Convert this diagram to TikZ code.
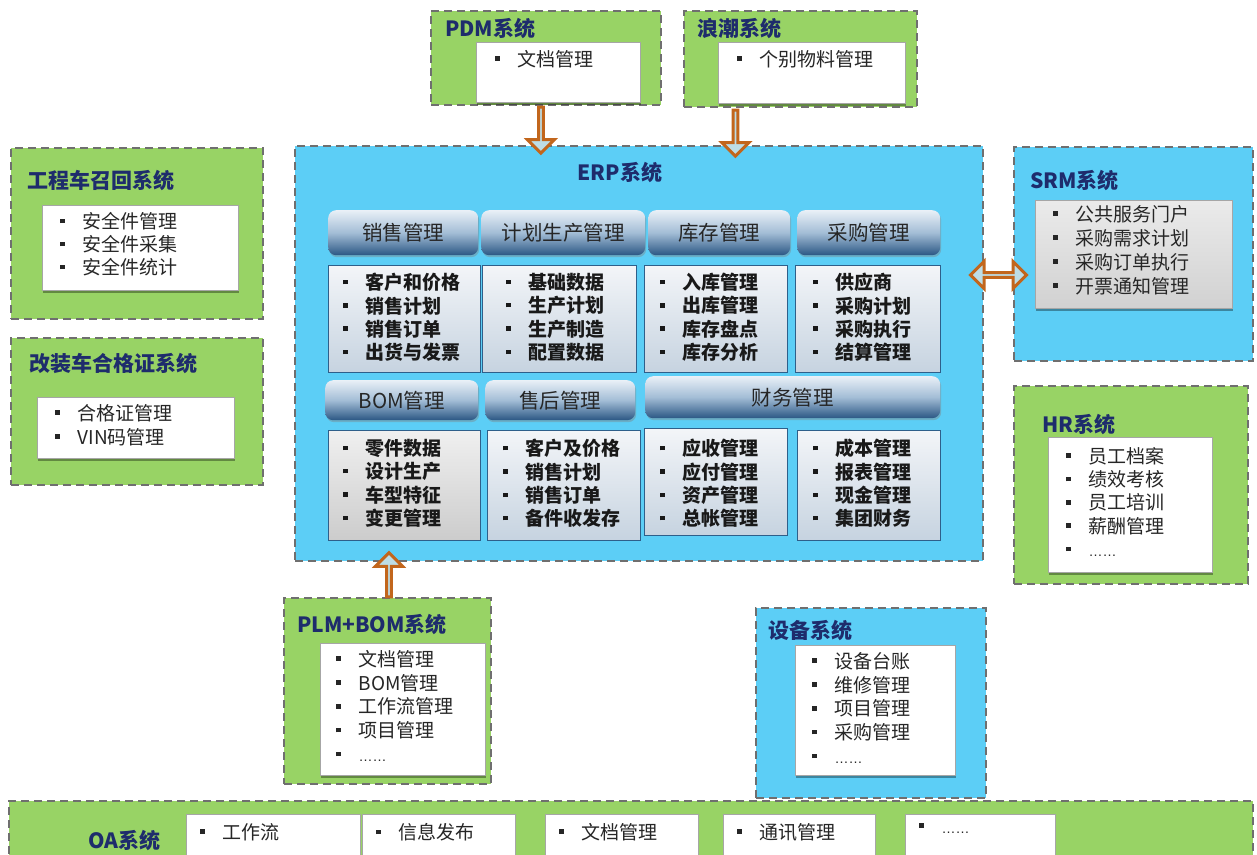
\documentclass[tikz,border=0pt]{standalone}
\usepackage{fontspec}
\setmainfont{Noto Sans CJK SC}
\newfontfamily\dotsfont{Liberation Sans}
\usetikzlibrary{positioning}
\usetikzlibrary{calc}
\usetikzlibrary{shapes.arrows}
\usetikzlibrary{shadows}

\definecolor{sysgreen}{HTML}{98D365}
\definecolor{sysblue}{HTML}{5CCEF6}
\definecolor{dashgray}{HTML}{6F6F6F}
\definecolor{navy}{HTML}{1E2C6C}
\definecolor{hdrtop}{HTML}{E9F0F7}
\definecolor{hdrmid}{HTML}{A3BDD6}
\definecolor{hdrbot}{HTML}{2B5784}
\definecolor{modline}{HTML}{2E5F8A}
\definecolor{modtop}{HTML}{F3F5F8}
\definecolor{modbot}{HTML}{C6D3E0}
\definecolor{arrowline}{HTML}{C2661C}
\definecolor{arrowfill}{HTML}{BDDDE6}

\newcommand\bl{\rule[0.28em]{4.5pt}{4.5pt}\hspace{18pt}}
\newcommand\etc{{\dotsfont\fontsize{14}{18}\selectfont ……}}

\tikzset{
  sysbox/.style = {
    anchor=north west, inner sep=0pt, draw=dashgray, line width=2pt, dash pattern=on 8pt off 5pt},
  greensys/.style = {sysbox, fill=sysgreen},
  bluesys/.style = {sysbox, fill=sysblue},
  systitle/.style = {
    anchor=west, inner sep=0pt, text=navy, font=\bfseries\fontsize{21}{25}\selectfont},
  listbox/.style = {
    anchor=north west, inner sep=0pt, fill=white, draw=black!35, line width=.6pt,
    drop shadow={shadow xshift=1pt, shadow yshift=-3pt, fill=black, opacity=.35}},
  items/.style = {
    anchor=north west, inner sep=0pt, align=left, text=black!85, font=\fontsize{19}{23.5}\selectfont}
}

\begin{document}
\begin{tikzpicture}[x=1pt, y=-1pt,
hdr/.style={anchor=north west, rounded corners=8pt, top color=hdrtop, bottom color=hdrbot,
  middle color=hdrmid, text=black!85, font=\fontsize{20.5}{24}\selectfont,
  drop shadow={shadow xshift=1pt, shadow yshift=-2pt, opacity=.4}},
modbox/.style={anchor=north west, inner sep=0pt, draw=modline, line width=1pt,
  top color=modtop, bottom color=modbot},
erpitems/.style={items, text=black!90, font=\bfseries\fontsize{19}{23.3}\selectfont},
flowarrow/.style={single arrow, draw=arrowline, fill=arrowfill, line width=3pt,
  minimum width=27pt, single arrow head extend=7pt, single arrow head indent=0pt, inner sep=0pt},
syncarrow/.style={double arrow, draw=arrowline, fill=arrowfill, line width=3pt,
  minimum width=27pt, double arrow head extend=7pt, inner sep=0pt}]

\useasboundingbox (0,0) rectangle (1257,854);
\fill[white] (0,0) rectangle (1257,854);

% top systems
\node[greensys, minimum width=230pt, minimum height=94pt] (pdm) at (430,10) {};
\node[systitle] at (445,28) {PDM系统};
\node[listbox, minimum width=164pt, minimum height=60pt] (pdmlist) at (476,42) {};
\node[items] at (495,50) {\bl 文档管理};

\node[greensys, minimum width=233pt, minimum height=96pt] (lc) at (683,10) {};
\node[systitle] at (697,28) {浪潮系统};
\node[listbox, minimum width=187pt, minimum height=61pt] (lclist) at (718,42) {};
\node[items] at (737,50) {\bl 个别物料管理};

% left systems
\node[greensys, minimum width=252pt, minimum height=171pt] (zh) at (10,147) {};
\node[systitle] at (27,180) {工程车召回系统};
\node[listbox, minimum width=196pt, minimum height=85pt] (zhlist) at (42,205) {};
\node[items, font=\fontsize{19}{23}\selectfont] at (60,212) {\bl 安全件管理\\\bl 安全件采集\\\bl 安全件统计};

\node[greensys, minimum width=252pt, minimum height=147pt] (gz) at (10,337) {};
\node[systitle] at (29,363) {改装车合格证系统};
\node[listbox, minimum width=197pt, minimum height=61pt] (gzlist) at (37,397) {};
\node[items, font=\fontsize{19}{24}\selectfont] at (55,404) {\bl 合格证管理\\\bl VIN码管理};

% right systems
\node[bluesys, minimum width=239pt, minimum height=214pt] (srm) at (1013,146) {};
\node[systitle] at (1030,180) {SRM系统};
\node[listbox, top color=black!8, bottom color=black!18, minimum width=197pt, minimum height=108pt] (srmlist) at (1035,200) {};
\node[items, font=\fontsize{19}{24}\selectfont] at (1053,205) {\bl 公共服务门户\\\bl 采购需求计划\\\bl 采购订单执行\\\bl 开票通知管理};

\node[greensys, minimum width=234pt, minimum height=198pt] (hr) at (1013,385) {};
\node[systitle] at (1042,424) {HR系统};
\node[listbox, minimum width=164pt, minimum height=135pt] (hrlist) at (1048,437) {};
\node[items, font=\fontsize{19}{23.3}\selectfont] at (1066,447) {\bl 员工档案\\\bl 绩效考核\\\bl 员工培训\\\bl 薪酬管理\\\bl \etc};

% bottom systems
\node[greensys, minimum width=207pt, minimum height=186pt] (plm) at (283,597) {};
\node[systitle] at (297,624) {PLM+BOM系统};
\node[listbox, minimum width=165pt, minimum height=132pt] (plmlist) at (320,643) {};
\node[items, font=\fontsize{19}{23.8}\selectfont] at (336,650) {\bl 文档管理\\\bl BOM管理\\\bl 工作流管理\\\bl 项目管理\\\bl \etc};

\node[bluesys, minimum width=230pt, minimum height=190pt] (sb) at (755,607) {};
\node[systitle] at (768,630) {设备系统};
\node[listbox, minimum width=160pt, minimum height=130pt] (sblist) at (795,645) {};
\node[items, font=\fontsize{19}{23.8}\selectfont] at (812,652) {\bl 设备台账\\\bl 维修管理\\\bl 项目管理\\\bl 采购管理\\\bl \etc};

\node[greensys, minimum width=1244pt, minimum height=80pt] (oa) at (8,800) {};
\node[systitle] at (88,840) {OA系统};
\foreach \x/\w/\t/\n in {186/174/工作流/oa1, 362/153/信息发布/oa2, 545/153/文档管理/oa3,
  723/152/通讯管理/oa4, 905/150/{\etc}/oa5}{
  \node[listbox, minimum width=\w pt, minimum height=60pt] (\n) at (\x,814) {};
  \node[items] at (\x+14,823) {\bl\t};
}

% ERP
\node[bluesys, minimum width=688pt, minimum height=415pt] (erp) at (294,145) {};
\node[text=navy, font=\bfseries\fontsize{21}{25}\selectfont] at (620,172) {ERP系统};

\node[hdr, minimum width=150pt, minimum height=45pt] (xs) at (328,210) {销售管理};
\node[hdr, minimum width=164pt, minimum height=45pt] (jh) at (481,210) {计划生产管理};
\node[hdr, minimum width=142pt, minimum height=45pt] (kc) at (648,210) {库存管理};
\node[hdr, minimum width=143pt, minimum height=45pt] (cg) at (797,210) {采购管理};

\node[modbox, minimum width=152pt, minimum height=107pt] (xsbox) at (328,265) {};
\node[modbox, minimum width=154pt, minimum height=107pt] (jhbox) at (482,265) {};
\node[modbox, minimum width=143pt, minimum height=107pt] (kcbox) at (644,265) {};
\node[modbox, minimum width=145pt, minimum height=107pt] (cgbox) at (795,265) {};
\node[erpitems] at (343,273) {\bl 客户和价格\\\bl 销售计划\\\bl 销售订单\\\bl 出货与发票};
\node[erpitems] at (506,273) {\bl 基础数据\\\bl 生产计划\\\bl 生产制造\\\bl 配置数据};
\node[erpitems] at (660,273) {\bl 入库管理\\\bl 出库管理\\\bl 库存盘点\\\bl 库存分析};
\node[erpitems] at (813,273) {\bl 供应商\\\bl 采购计划\\\bl 采购执行\\\bl 结算管理};

\node[hdr, minimum width=153pt, minimum height=40pt] (bom) at (325,380) {BOM管理};
\node[hdr, minimum width=150pt, minimum height=40pt] (sh) at (485,380) {售后管理};
\node[hdr, minimum width=295pt, minimum height=42pt] (cw) at (645,376) {财务管理};

\node[modbox, top color=black!6, bottom color=black!20, minimum width=152pt, minimum height=110pt] (bombox) at (328,430) {};
\node[modbox, minimum width=153pt, minimum height=110pt] (shbox) at (487,430) {};
\node[modbox, minimum width=143pt, minimum height=107pt] (cw1box) at (644,428) {};
\node[modbox, minimum width=143pt, minimum height=110pt] (cw2box) at (797,430) {};
\node[erpitems] at (343,439) {\bl 零件数据\\\bl 设计生产\\\bl 车型特征\\\bl 变更管理};
\node[erpitems] at (503,439) {\bl 客户及价格\\\bl 销售计划\\\bl 销售订单\\\bl 备件收发存};
\node[erpitems] at (660,439) {\bl 应收管理\\\bl 应付管理\\\bl 资产管理\\\bl 总帐管理};
\node[erpitems] at (813,439) {\bl 成本管理\\\bl 报表管理\\\bl 现金管理\\\bl 集团财务};

% arrows
\node[flowarrow, rotate=-90, minimum height=46pt] (a1) at ($(pdm.south west)!0.478!(pdm.south east)+(0,23)$) {};
\node[flowarrow, rotate=-90, minimum height=46pt] (a2) at ($(lc.south west)!0.223!(lc.south east)+(0,24)$) {};
\node[flowarrow, rotate=90, minimum height=44pt] (a3) at ($(plm.north)+(1.5,-21)$) {};
\coordinate (srmmid) at ($(erp.east)!0.5!(srm.west)$);
\node[syncarrow, minimum height=56pt] (a4) at (srmmid |- 0,275) {};
\end{tikzpicture}
\end{document}
